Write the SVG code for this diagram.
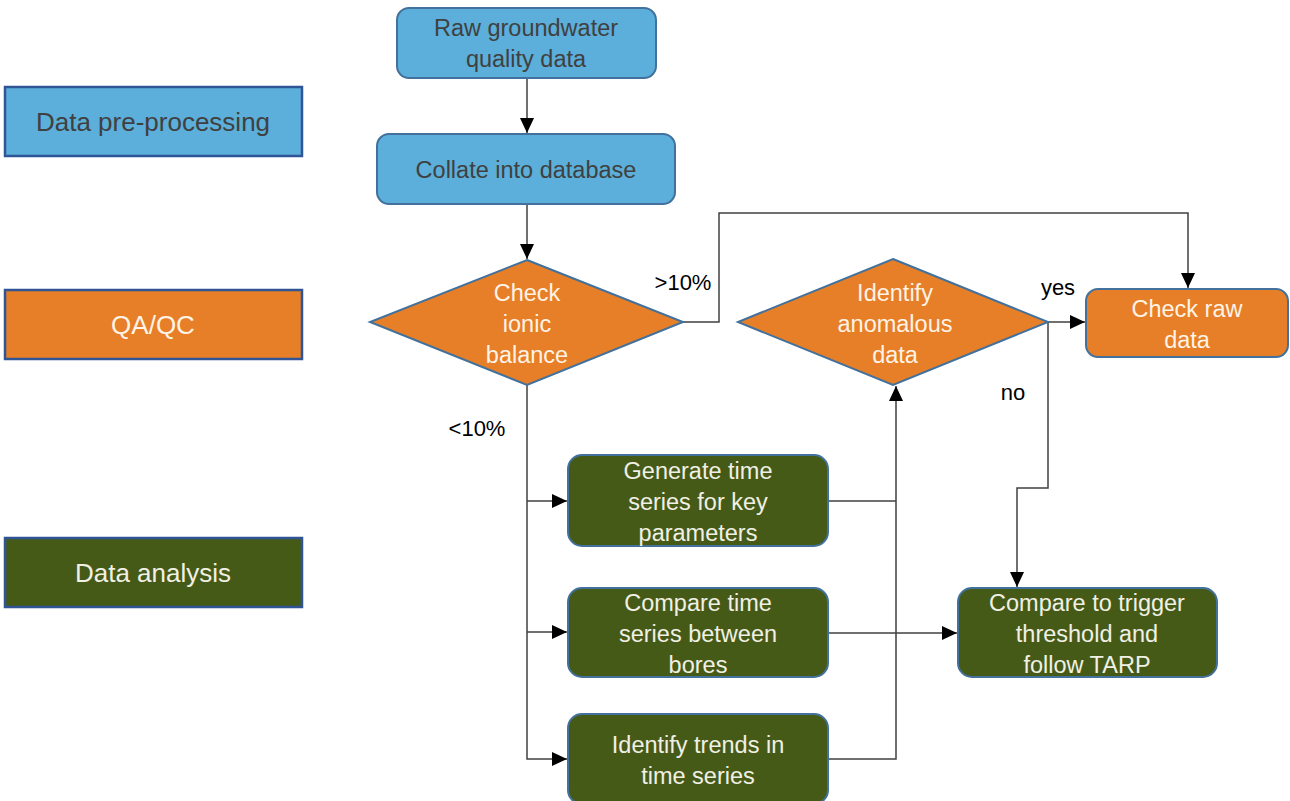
<svg xmlns="http://www.w3.org/2000/svg" width="1290" height="801" viewBox="0 0 1290 801">
<defs>
<marker id="arr" markerUnits="userSpaceOnUse" markerWidth="15" markerHeight="14" refX="15" refY="7" orient="auto">
<path d="M0,0 L15,7 L0,14 z" fill="#000"/>
</marker>
<style>
.t{font-family:"Liberation Sans",Arial,sans-serif;font-size:23.5px;text-anchor:middle;dominant-baseline:central}
.lg{font-size:26px}
.blue{fill:#5BAFDA;stroke:#41719C;stroke-width:2}
.orange{fill:#E67F27;stroke:#41719C;stroke-width:2}
.green{fill:#465A18;stroke:#41719C;stroke-width:2}
.leg{stroke:#2F5597;stroke-width:2.5}
.tb{fill:#404040}
.tw{fill:#FFF3E6}
.tg{fill:#F0F0E4}
.lbl{fill:#000;font-size:22px}
.c{fill:none;stroke:#404040;stroke-width:1.5}
.ca{fill:none;stroke:#404040;stroke-width:1.5;marker-end:url(#arr)}
</style>
</defs>
<rect width="1290" height="801" fill="#fff"/>

<g id="legend-preprocessing">
<rect x="5" y="87" width="297" height="69" class="blue leg"/>
<text x="153" y="122" class="t lg tb">Data pre-processing</text>
</g>
<g id="legend-qaqc">
<rect x="5" y="290" width="297" height="69" class="orange leg"/>
<text x="153" y="325" class="t lg tw">QA/QC</text>
</g>
<g id="legend-analysis">
<rect x="5" y="538" width="297" height="69" class="green leg"/>
<text x="153" y="573" class="t lg tg">Data analysis</text>
</g>

<g id="connectors">
<path d="M527,78 V133" class="ca"/>
<path d="M527,204 V259" class="ca"/>
<path d="M683,322 H719 V213 H1188 V288" class="ca"/>
<path d="M1048,322 H1085" class="ca"/>
<path d="M1048,322 V488 H1017 V587" class="ca"/>
<path d="M527,385 V759 H567" class="ca"/>
<path d="M527,501 H567" class="ca"/>
<path d="M527,632 H567" class="ca"/>
<path d="M828,501 H896" class="c"/>
<path d="M828,759 H896 V386" class="ca"/>
<path d="M828,633 H957" class="ca"/>
</g>

<g id="labels">
<text x="683" y="282" class="t lbl">&gt;10%</text>
<text x="477" y="428" class="t lbl">&lt;10%</text>
<text x="1058" y="287" class="t lbl">yes</text>
<text x="1013" y="392" class="t lbl">no</text>
</g>

<g id="raw-data">
<rect x="397" y="8" width="259" height="70" rx="12" class="blue"/>
<text x="526" y="28" class="t tb">Raw groundwater</text>
<text x="526" y="59" class="t tb">quality data</text>
</g>
<g id="collate">
<rect x="377" y="134" width="298" height="70" rx="12" class="blue"/>
<text x="526" y="170" class="t tb">Collate into database</text>
</g>
<g id="check-ionic">
<polygon points="527,260 683,322 527,385 370,322" class="orange"/>
<text x="527" y="293" class="t tw">Check</text>
<text x="527" y="324" class="t tw">ionic</text>
<text x="527" y="355" class="t tw">balance</text>
</g>
<g id="identify-anomalous">
<polygon points="893,259 1048,322 893,385 738,322" class="orange"/>
<text x="895" y="293" class="t tw">Identify</text>
<text x="895" y="324" class="t tw">anomalous</text>
<text x="895" y="355" class="t tw">data</text>
</g>
<g id="check-raw">
<rect x="1086" y="289" width="202" height="68" rx="12" class="orange"/>
<text x="1187" y="309" class="t tw">Check raw</text>
<text x="1187" y="340" class="t tw">data</text>
</g>
<g id="generate-ts">
<rect x="568" y="455" width="260" height="91" rx="14" class="green"/>
<text x="698" y="471" class="t tg">Generate time</text>
<text x="698" y="502" class="t tg">series for key</text>
<text x="698" y="533" class="t tg">parameters</text>
</g>
<g id="compare-ts">
<rect x="568" y="588" width="260" height="89" rx="14" class="green"/>
<text x="698" y="603" class="t tg">Compare time</text>
<text x="698" y="634" class="t tg">series between</text>
<text x="698" y="665" class="t tg">bores</text>
</g>
<g id="identify-trends">
<rect x="568" y="714" width="260" height="90" rx="14" class="green"/>
<text x="698" y="745" class="t tg">Identify trends in</text>
<text x="698" y="776" class="t tg">time series</text>
</g>
<g id="compare-trigger">
<rect x="958" y="588" width="259" height="89" rx="14" class="green"/>
<text x="1087" y="603" class="t tg">Compare to trigger</text>
<text x="1087" y="634" class="t tg">threshold and</text>
<text x="1087" y="665" class="t tg">follow TARP</text>
</g>
</svg>
